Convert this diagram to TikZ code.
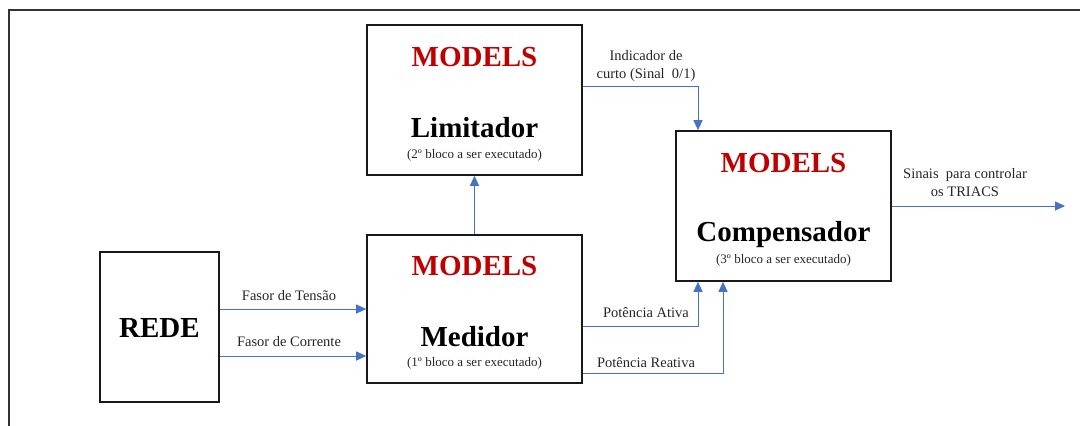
\documentclass[tikz,border=0pt]{standalone}
\usepackage{fontspec}
\setmainfont{Liberation Serif}
\usetikzlibrary{arrows.meta,positioning}
\definecolor{sigblue}{HTML}{4472C4}
\definecolor{modred}{HTML}{C00000}
\tikzset{
  block/.style={draw=black!90, line width=1.6pt, minimum width=215pt, minimum height=150pt, inner sep=0pt},
  sig/.style={draw=sigblue, line width=1pt, -{Triangle[length=10pt,width=9pt]}},
  tag/.style={font=\fontsize{29}{30}\selectfont\bfseries, text=modred, inner sep=0pt},
  ttl/.style={font=\fontsize{29}{30}\selectfont\bfseries, inner sep=0pt},
  sub/.style={font=\fontsize{13}{14}\selectfont, text=black!85, inner sep=0pt},
  lbl/.style={font=\fontsize{14.5}{18}\selectfont, text=black!85, align=center, inner sep=0pt},
}
\begin{document}
\begin{tikzpicture}[x=1pt,y=-1pt]
\useasboundingbox (0,0) rectangle (1080,426);
% outer frame (left and top edges)
\draw[black!80, line width=1.6pt] (9,426) -- (9,10) -- (1080,10);

% blocks
\node[block] (lim) at (474.5,100) {};
\node[block, minimum height=148pt] (med) at (474.5,309) {};
\node[block] (comp) at (783.5,206) {};
\node[block, minimum width=119pt] (rede) at (159.5,327) {};

% block texts
\node[tag] (limtag) at (474.5,57) {MODELS};
\node[ttl] (limttl) at (474.5,128) {Limitador};
\node[sub] (limsub) at (474.5,155) {(2º bloco a ser executado)};

\node[tag] (medtag) at (474.5,266) {MODELS};
\node[ttl] (medttl) at (474.5,337) {Medidor};
\node[sub] (medsub) at (474.5,363) {(1º bloco a ser executado)};

\node[tag] (comptag) at (783.5,163) {MODELS};
\node[ttl] (compttl) at (783.5,235) {Compensador};
\node[sub] (compsub) at (783.5,260) {(3º bloco a ser executado)};

\node[ttl] (redettl) at (159.5,328) {REDE};

% connectors
\draw[sig] (rede.east |- med.center) -- (med.west);
\draw[sig] ([yshift=-47pt]rede.east |- med.center) -- ([yshift=-47pt]med.west);
\draw[sig] (med.north) -- (lim.south);
\draw[sig] ([yshift=14pt]lim.east) -| ([xshift=-85.5pt]comp.north);
\draw[sig] ([yshift=-17pt]med.east) -| ([xshift=-85.5pt]comp.south);
\draw[sig] ([yshift=-64pt]med.east) -| ([xshift=-60.5pt]comp.south);
\coordinate (out) at (1065,206);
\draw[sig] (comp.east) -- (out);

% connector labels
\node[lbl] (ltens) at (289,296) {Fasor de Tensão};
\node[lbl] (lcorr) at (289,342) {Fasor de Corrente};
\node[lbl] (lind) at (646,66) {Indicador de\\curto (Sinal~ 0/1)};
\node[lbl] (lativ) at (646,313) {Potência Ativa};
\node[lbl] (lreat) at (646,363) {Potência Reativa};
\node[lbl] (lsin) at (965,183) {Sinais~ para controlar\\os TRIACS};
\end{tikzpicture}
\end{document}
